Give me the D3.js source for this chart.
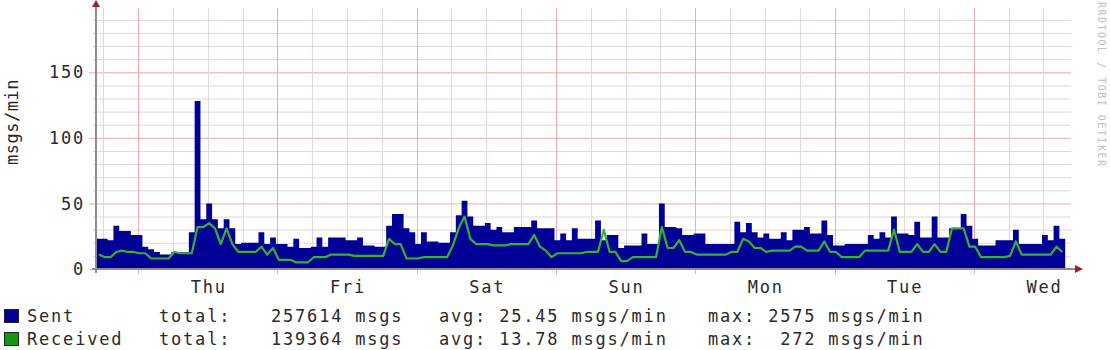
<!DOCTYPE html>
<html>
<head>
<meta charset="utf-8">
<script src="https://cdn.jsdelivr.net/npm/d3@7"></script>
<style>
body { margin: 0; background: #fff; }
svg text { font-family: "DejaVu Sans Mono", monospace; }
</style>
</head>
<body>
<div id="content"></div>
<script>
var width = 1110
var height = 350

// hourly samples, msgs/min
var sent = [
  23, 23, 22, 33, 29, 29, 26, 26, 17, 15,
  13, 11, 11, 13, 13, 13, 28, 128, 38, 50,
  38, 31, 38, 31, 19, 20, 20, 20, 28, 19,
  24, 19, 19, 17, 23, 16, 16, 17, 24, 17,
  24, 24, 24, 22, 22, 24, 18, 18, 17, 17,
  33, 42, 42, 31, 28, 19, 28, 21, 21, 20,
  20, 28, 41, 52, 40, 33, 33, 35, 30, 32,
  28, 28, 32, 32, 32, 37, 31, 31, 31, 22,
  27, 22, 31, 23, 23, 23, 37, 22, 26, 26,
  16, 18, 18, 18, 27, 19, 19, 50, 32, 32,
  31, 26, 26, 27, 27, 19, 19, 19, 19, 19,
  36, 28, 35, 28, 24, 27, 23, 23, 28, 22,
  30, 30, 32, 27, 27, 37, 26, 18, 18, 19,
  19, 19, 19, 26, 23, 28, 24, 40, 27, 27,
  26, 36, 24, 24, 40, 24, 24, 31, 31, 42,
  33, 23, 18, 18, 18, 22, 22, 22, 30, 19,
  19, 19, 19, 26, 22, 33, 23, 23
];

var received = [
  11, 9, 9, 13, 14, 13, 13, 12, 12, 8,
  8, 8, 8, 13, 12, 12, 12, 32, 32, 35,
  31, 19, 31, 19, 13, 13, 13, 13, 17, 11,
  16, 7, 7, 7, 5, 5, 5, 9, 9, 9,
  11, 11, 11, 11, 10, 10, 10, 10, 10, 10,
  23, 19, 19, 8, 8, 8, 9, 9, 9, 9,
  9, 18, 31, 40, 23, 19, 19, 19, 18, 18,
  18, 19, 19, 19, 19, 26, 17, 14, 9, 12,
  12, 12, 12, 12, 13, 13, 13, 30, 13, 13,
  6, 6, 9, 9, 9, 9, 9, 32, 16, 16,
  22, 13, 13, 11, 11, 11, 11, 11, 11, 13,
  13, 23, 21, 16, 16, 13, 14, 14, 14, 14,
  17, 17, 14, 14, 14, 21, 13, 13, 9, 9,
  9, 9, 14, 14, 14, 14, 14, 30, 13, 13,
  13, 19, 13, 13, 19, 13, 13, 31, 31, 31,
  17, 17, 9, 9, 9, 9, 9, 10, 21, 11,
  11, 11, 11, 11, 11, 17, 13, 13
];

var yTicks = [0, 50, 100, 150];
var yMinor = [10, 20, 30, 40, 60, 70, 80, 90, 110, 120, 130, 140, 160, 170, 180, 190];
var dayLabels = ["Thu", "Fri", "Sat", "Sun", "Mon", "Tue", "Wed"];

var legendNames = ["Sent", "Received"];
var legendColors = ["#000099", "#119911"];
var legendTotals = ["257614", "139364"];
var legendAvgs = ["25.45", "13.78"];
var legendMaxes = ["2575", " 272"];

var start = new Date(2010, 2, 3, 16, 45);
var end = d3.timeDay.offset(start, 7);
var hour = 3600 * 1000;

var x = d3.scaleTime().domain([start, end]).range([96, 1071]);
var y = d3.scaleLinear().domain([0, 199]).range([269, 8]);

var svg = d3.select("#content").append("svg").attr("width", width).attr("height", height)

var grid = svg.append("g");

// horizontal grid
grid.selectAll(".hminor")
    .data(yMinor)
    .enter()
    .append("line")
    .attr("x1", 93).attr("x2", 1071)
    .attr("y1", d => y(d) + 0.5).attr("y2", d => y(d) + 0.5)
    .attr("stroke", "#e2d6d6").attr("stroke-width", 1);

grid.selectAll(".hmajor")
    .data(yTicks)
    .enter()
    .append("line")
    .attr("x1", 89).attr("x2", 1071)
    .attr("y1", d => y(d) + 0.5).attr("y2", d => y(d) + 0.5)
    .attr("stroke", "#f0a8a8").attr("stroke-width", 1);

// vertical grid, every 6 hours, red at midnight
var sixHours = d3.timeHour.every(6).range(start, end);

grid.selectAll(".vgrid")
    .data(sixHours)
    .enter()
    .append("line")
    .attr("x1", d => Math.round(x(d)) + 0.5).attr("x2", d => Math.round(x(d)) + 0.5)
    .attr("y1", y(199))
    .attr("y2", d => d.getHours() === 0 ? 274 : 269)
    .attr("stroke", d => d.getHours() === 0 ? "#f0a8a8" : "#e2d6d6")
    .attr("stroke-width", 1);

// data
var points = sent.map((d, i) => ({ t: new Date(start.getTime() + i * hour), s: d, r: received[i] }));

var area = d3.area()
    .curve(d3.curveStepAfter)
    .x(d => x(d.t))
    .y0(y(0))
    .y1(d => y(d.s));

svg.append("path")
    .datum(points)
    .attr("d", area)
    .attr("fill", "#000096");

// received drawn through the middle of each hourly step
var line = d3.line()
    .x(d => x(new Date(d.t.getTime() + hour / 2)))
    .y(d => y(d.r));

svg.append("path")
    .datum(points.slice(0, points.length - 1))
    .attr("d", line)
    .attr("fill", "none")
    .attr("stroke", "#33b233")
    .attr("stroke-width", 2.2)
    .attr("stroke-linejoin", "round");

// axes
svg.append("line")
    .attr("x1", 96).attr("x2", 96)
    .attr("y1", 4).attr("y2", 273)
    .attr("stroke", "#8c8c8c").attr("stroke-width", 2);

svg.append("line")
    .attr("x1", 92).attr("x2", 1076)
    .attr("y1", y(0)).attr("y2", y(0))
    .attr("stroke", "#8c8c8c").attr("stroke-width", 2);

svg.append("path")
    .attr("d", "M92,7 L96,0 L100,7 Z")
    .attr("fill", "#9a2222");

svg.append("path")
    .attr("d", `M1075,${y(0) - 4} L1083,${y(0)} L1075,${y(0) + 4} Z`)
    .attr("fill", "#9a2222");

// y labels
svg.selectAll(".ylabel")
    .data(yTicks)
    .enter()
    .append("text")
    .attr("x", 85)
    .attr("y", d => y(d))
    .attr("dy", "0.36em")
    .attr("text-anchor", "end")
    .attr("font-size", 17)
    .attr("letter-spacing", 1.8)
    .attr("fill", "#2a2a2a")
    .text(d => d);

svg.append("text")
    .attr("transform", "translate(18, 122) rotate(-90)")
    .attr("text-anchor", "middle")
    .attr("font-size", 17)
    .attr("letter-spacing", 0.5)
    .attr("fill", "#2a2a2a")
    .text("msgs/min");

// day labels at noon
var noons = d3.timeDay.range(d3.timeDay.ceil(start), end).map(d => d3.timeHour.offset(d, 12));

svg.selectAll(".day")
    .data(noons)
    .enter()
    .append("text")
    .attr("x", d => x(d) + 1)
    .attr("y", 293)
    .attr("text-anchor", "middle")
    .attr("font-size", 17)
    .attr("letter-spacing", 1.8)
    .attr("fill", "#2a2a2a")
    .text((d, i) => dayLabels[i]);

// legend
var legend = svg.selectAll(".legend-item")
    .data(legendNames)
    .enter()
    .append("g")
    .attr("class", "legend-item")
    .attr("transform", (d, i) => `translate(0, ${322 + i * 23})`);

legend.append("rect")
    .attr("x", 4.5).attr("y", -12.5)
    .attr("width", 14).attr("height", 13)
    .attr("fill", (d, i) => legendColors[i])
    .attr("stroke", "#222").attr("stroke-width", 1);

function legendText(xPos, fn) {
    legend.append("text")
        .attr("x", xPos)
        .attr("y", 0)
        .attr("font-size", 17)
        .attr("letter-spacing", 1.8)
        .attr("fill", "#2a2a2a")
        .style("white-space", "pre")
        .text(fn);
}

legendText(27, d => d);
legendText(159, () => "total:");
legendText(271, (d, i) => legendTotals[i] + " msgs");
legendText(439, (d, i) => "avg: " + legendAvgs[i] + " msgs/min");
legendText(708, (d, i) => "max: " + legendMaxes[i] + " msgs/min");

// watermark
svg.append("text")
    .attr("transform", "translate(1098, 2) rotate(90)")
    .attr("font-size", 10)
    .attr("letter-spacing", 1.5)
    .attr("fill", "#bdbdbd")
    .text("RRDTOOL / TOBI OETIKER");
</script>
</body>
</html>
